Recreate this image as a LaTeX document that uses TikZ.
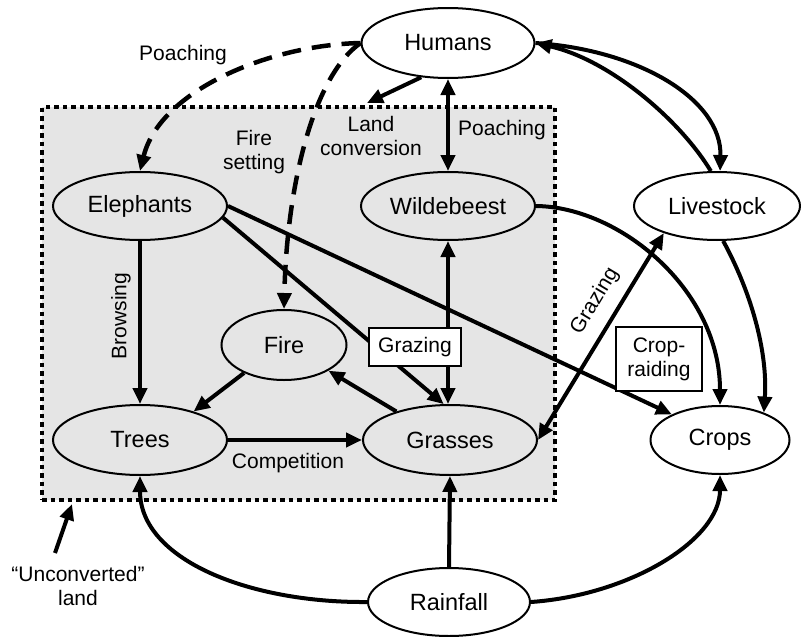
\documentclass[tikz,border=0pt]{standalone}
\usepackage{fontspec}
\setmainfont{Liberation Sans}
\usetikzlibrary{shapes.geometric,arrows.meta}
\definecolor{bgc}{RGB}{229,229,229}
\begin{document}
\begin{tikzpicture}[x=1pt,y=-1pt,
  ell/.style={ellipse, draw, line width=2pt, inner sep=0pt, font=\fontsize{23.5}{28}\selectfont},
  gnode/.style={ell, fill=bgc},
  wnode/.style={ell, fill=white},
  lab/.style={font=\fontsize{21}{24}\selectfont, align=center, inner sep=0pt},
  lbox/.style={lab, draw, fill=white, line width=1.2pt},
  arr/.style={line width=4pt, -{Triangle[length=16pt,width=14pt]}},
  darr/.style={line width=4pt, {Triangle[length=16pt,width=14pt]}-{Triangle[length=16pt,width=14pt]}},
  dsh/.style={arr, line width=4.5pt, dash pattern=on 19pt off 11pt},
  region/.style={draw, fill=bgc, line width=4.5pt, dash pattern=on 4.5pt off 4pt, inner sep=0pt}
]
\useasboundingbox (0,0) rectangle (801,637);
\node[region, minimum width=513pt, minimum height=393pt] (land) at (298.5,303.5) {};

\node[wnode, minimum width=173pt, minimum height=70pt] (hum) at (448,43) {Humans};
\node[gnode, minimum width=174pt, minimum height=68pt] (ele) at (140,206) {Elephants};
\node[gnode, minimum width=174pt, minimum height=68pt] (wil) at (448,206) {Wildebeest};
\node[wnode, minimum width=166pt, minimum height=68pt] (liv) at (717,206) {Livestock};
\node[gnode, minimum width=125pt, minimum height=70pt] (fire) at (284,345) {Fire};
\node[gnode, minimum width=174pt, minimum height=70pt] (tre) at (140,440) {Trees};
\node[gnode, minimum width=174pt, minimum height=70pt] (gra) at (450,440) {Grasses};
\node[wnode, minimum width=139pt, minimum height=68pt] (cro) at (720,440) {Crops};
\node[wnode, minimum width=162pt, minimum height=68pt] (rai) at (449,602) {Rainfall};

\coordinate (lc) at (367,103);
\coordinate (u1) at (55,553);
\coordinate (u2) at (72,504);

% dashed
\draw[dsh] (hum.west) .. controls (270,45) and (160,90) .. (ele.north);
\draw[dsh] (hum.west) .. controls (315,75) and (287,180) .. (fire.north);
% humans
\draw[arr] (hum.232) -- (lc);
\draw[darr] (hum.south) -- (hum.south |- wil.north);
\draw[arr] (liv.100) .. controls (680,120) and (610,60) .. (hum.east);
\draw[arr] (hum.east) .. controls (640,50) and (722,100) .. (liv.85);
% to crops
\draw[arr] (wil.east) .. controls (620,207) and (720,290) .. (cro.north);
\draw[arr] (liv.-80) .. controls (750,290) and (768,350) .. (cro.32);
\draw[arr] (ele.east) -- (cro.152);
\draw[arr] (ele.-8) -- (gra.100);
\draw[darr] (wil.south) -- (wil.south |- gra.north);
% inner
\draw[arr] (fire.215) -- (tre.28);
\draw[arr] (gra.152) -- (fire.-30);
\draw[arr] (tre.east) -- (gra.west);
\draw[arr] (ele.south) -- (tre.north);
\draw[darr] (gra.east) -- (liv.207);
% rainfall
\draw[arr] (rai.west) .. controls (250,603) and (140,560) .. (tre.south);
\draw[arr] (rai.north) -- (gra.south);
\draw[arr] (rai.east) .. controls (630,595) and (720,540) .. (cro.south);
\draw[arr] (u1) -- (u2);

% labels
\node[lab] (lpo1) at (183,55) {Poaching};
\node[lab] (lfs) at (254,152) {Fire\\setting};
\node[lab] (llc) at (371,136) {Land\\conversion};
\node[lab, anchor=west] (lpo2) at (458,130) {Poaching};
\node[lab, rotate=90] (lbr) at (121,316) {Browsing};
\node[lbox, minimum width=92pt, minimum height=38pt] (lgr1) at (415,347) {Grazing};
\node[lbox, minimum width=86pt, minimum height=64pt] (lcr) at (659,359) {Crop-\\raiding};
\node[lab, rotate=59] (lgr2) at (595,301) {Grazing};
\node[lab] (lco) at (288,463) {Competition};
\node[lab] (lun) at (78,586) {“Unconverted”\\land};
\end{tikzpicture}
\end{document}
